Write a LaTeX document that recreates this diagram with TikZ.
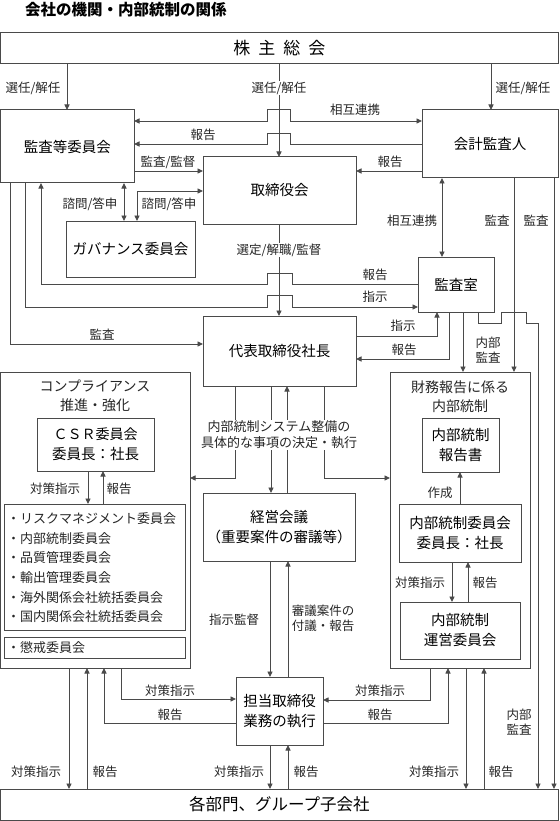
\documentclass[tikz,border=0pt]{standalone}
\usepackage{fontspec}
\setmainfont{Noto Sans CJK JP}
\usetikzlibrary{arrows.meta}
\definecolor{lc}{HTML}{4A4A4A}
\newcommand\mkbox[5]{\node[box,minimum width={#3-#1},minimum height={#4-#2}] (#5) at ({(#1+#3)/2},{(#2+#4)/2})}
\newcommand\fL{\fontsize{12.5}{15}\selectfont}
\newcommand\fB{\fontsize{14.5}{20}\selectfont}
\newcommand\fM{\fontsize{14}{19}\selectfont}
\newcommand\fH{\fontsize{16.5}{20}\selectfont}
\newcommand\fI{\fontsize{13}{16}\selectfont}
\begin{document}
\begin{tikzpicture}[x=1pt,y=-1pt,
 box/.style={draw=lc,line width=1pt,inner sep=0pt,outer sep=0pt,align=center,font=\fB},
 lbl/.style={font=\fL,inner sep=1pt,align=center,text=black!85},
 con/.style={draw=lc,line width=0.9pt},
 ar/.style={con,-{Triangle[length=5.5pt,width=5pt]}},
 da/.style={con,{Triangle[length=5.5pt,width=5pt]}-{Triangle[length=5.5pt,width=5pt]}}]
\useasboundingbox (0,0) rectangle (559,821);
\fill[white] (0,0) rectangle (559,821);

\node[anchor=west,font=\fontsize{15.5}{18}\selectfont\bfseries,inner sep=0pt] (title) at (25,10) {会社の機関・内部統制の関係};

% boxes
\mkbox{0.6}{33}{558}{64}{kabu}{\fontsize{17}{20}\selectfont 株\hspace{8pt}主\hspace{8pt}総\hspace{8pt}会};
\mkbox{0.6}{110}{134}{183}{kansa}{監査等委員会};
\mkbox{422}{110}{558}{178}{kaikei}{会計監査人};
\mkbox{203}{157}{356}{224}{tori}{取締役会};
\mkbox{66}{221}{195}{277}{gov}{ガバナンス委員会};
\mkbox{418}{257}{494}{312}{shitsu}{監査室};
\mkbox{203}{316}{356}{386}{daihyo}{代表取締役社長};
\mkbox{0.6}{372}{190}{668}{comp}{};
\mkbox{37}{418}{154}{471}{csr}{\fM ＣＳＲ委員会\\委員長：社長};
\mkbox{4}{504}{185}{630}{list}{};
\mkbox{4}{637}{185}{658}{chokai}{};
\mkbox{390}{372}{530}{668}{zaimu}{};
\mkbox{422}{418}{499}{472}{hokoku}{内部統制\\報告書};
\mkbox{399}{504}{521}{562}{naibu}{内部統制委員会\\委員長：社長};
\mkbox{400}{602}{520}{659}{unei}{内部統制\\運営委員会};
\mkbox{203}{493}{355}{561}{keiei}{経営会議\\（重要案件の審議等）};
\mkbox{236}{677}{323}{745}{tanto}{担当取締役\\業務の執行};
\mkbox{0.6}{789}{558}{820}{kakubu}{\fH 各部門、グループ子会社};

\node[lbl,font=\fM] (comptitle) at (95,396) {コンプライアンス\\推進・強化};
\node[lbl,font=\fM] (zaimutitle) at (460,397) {財務報告に係る\\内部統制};
\node[lbl,font=\fI,anchor=west] (it1) at (6,519) {・リスクマネジメント委員会};
\node[lbl,font=\fI,anchor=west] (it2) at (6,538.5) {・内部統制委員会};
\node[lbl,font=\fI,anchor=west] (it3) at (6,558) {・品質管理委員会};
\node[lbl,font=\fI,anchor=west] (it4) at (6,578) {・輸出管理委員会};
\node[lbl,font=\fI,anchor=west] (it5) at (6,597.5) {・海外関係会社統括委員会};
\node[lbl,font=\fI,anchor=west] (it6) at (6,617) {・国内関係会社統括委員会};
\node[lbl,font=\fI,anchor=west] (it7) at (6,648) {・懲戒委員会};

% connectors top
\draw[ar] (67,0 |- kabu.south) -- (67,0 |- kansa.north);
\draw[ar] (279,0 |- kabu.south) -- (279,0 |- tori.north);
\draw[ar] (491,0 |- kabu.south) -- (491,0 |- kaikei.north);
\node[lbl] (l1) at (33,88) {選任/解任};
\node[lbl,fill=white] (l2) at (279,88) {選任/解任};
\node[lbl] (l3) at (523,88) {選任/解任};

\draw[da] (kansa.east |- 0,121) -- (267,121) -- (267,109) -- (290,109) -- (290,121) -- (kaikei.west |- 0,121);
\node[lbl] (l4) at (355,110) {相互連携};
\draw[ar] (kaikei.west |- 0,144) -- (290,144) -- (290,133) -- (267,133) -- (267,144) -- (kansa.east |- 0,144);
\node[lbl] (l5) at (203,135) {報告};
\draw[ar] (kaikei.west |- 0,171) -- (tori.east |- 0,171);
\node[lbl] (l6) at (390,162) {報告};
\draw[ar] (kansa.east |- 0,171) -- (tori.west |- 0,171);
\node[lbl] (l7) at (168,162) {監査/監督};
\draw[da] (124,0 |- kansa.south) -- (124,0 |- gov.north);
\node[lbl] (l8) at (90,204) {諮問/答申};
\draw[da] (137,0 |- gov.north) -- (137,191) -- (tori.west |- 0,191);
\node[lbl] (l9) at (169,204) {諮問/答申};

\draw[ar] (shitsu.west |- 0,284) -- (292,284) -- (292,273) -- (267,273) -- (267,284) -- (41,284) -- (41,0 |- kansa.south);
\node[lbl] (l10) at (375,275) {報告};
\draw[ar] (25,0 |- kansa.south) -- (25,307) -- (267,307) -- (267,295) -- (292,295) -- (292,307) -- (shitsu.west |- 0,307);
\node[lbl] (l11) at (375,297) {指示};
\draw[ar] (10,0 |- kansa.south) -- (10,344) -- (daihyo.west |- 0,344);
\node[lbl] (l12) at (102,335) {監査};
\draw[ar] (279,0 |- tori.south) -- (279,0 |- daihyo.north);
\node[lbl,fill=white] (l13) at (279,250) {選定/解職/監督};

\draw[da] (442,0 |- kaikei.south) -- (442,0 |- shitsu.north);
\node[lbl] (l14) at (412,221) {相互連携};
\draw[ar] (514,0 |- kaikei.south) -- (514,0 |- zaimu.north);
\node[lbl] (l15) at (497,221) {監査};
\draw[ar] (554,0 |- kaikei.south) -- (554,0 |- kakubu.north);
\node[lbl] (l16) at (536,221) {監査};

\draw[ar] (daihyo.east |- 0,336) -- (437,336) -- (437,0 |- shitsu.south);
\node[lbl] (l17) at (403,326) {指示};
\draw[ar] (449,0 |- shitsu.south) -- (449,359) -- (daihyo.east |- 0,359);
\node[lbl] (l18) at (404,350) {報告};
\draw[ar] (463,0 |- shitsu.south) -- (463,0 |- zaimu.north);
\node[lbl] (l19) at (488,350) {内部\\監査};
\draw[ar] (478,0 |- shitsu.south) -- (478,323) -- (501,323) -- (501,312) -- (526,312) -- (526,323) -- (538,323) -- (538,0 |- kakubu.north);
\node[lbl] (l20) at (519,722) {内部\\監査};

% middle
\draw[ar] (235,0 |- daihyo.south) -- (235,478) -- (comp.east |- 0,478);
\draw[ar] (271,0 |- daihyo.south) -- (271,0 |- keiei.north);
\draw[ar] (287,0 |- keiei.north) -- (287,0 |- daihyo.south);
\draw[ar] (324,0 |- daihyo.south) -- (324,478) -- (zaimu.west |- 0,478);
\node[lbl,fill=white,font=\fontsize{13}{16}\selectfont] (l24) at (279,435) {内部統制システム整備の\\具体的な事項の決定・執行};

\draw[ar] (88,0 |- csr.south) -- (88,0 |- list.north);
\node[lbl] (l25) at (55,489) {対策指示};
\draw[ar] (103,0 |- list.north) -- (103,0 |- csr.south);
\node[lbl] (l26) at (119,489) {報告};
\draw[ar] (460,0 |- naibu.north) -- (460,0 |- hokoku.south);
\node[lbl] (l27) at (440,493) {作成};
\draw[ar] (452,0 |- naibu.south) -- (452,0 |- unei.north);
\node[lbl] (l28) at (420,583) {対策指示};
\draw[ar] (468,0 |- unei.north) -- (468,0 |- naibu.south);
\node[lbl] (l29) at (485,583) {報告};

\draw[ar] (270,0 |- keiei.south) -- (270,0 |- tanto.north);
\node[lbl] (l30) at (234,620) {指示監督};
\draw[ar] (288,0 |- tanto.north) -- (288,0 |- keiei.south);
\node[lbl] (l31) at (323,618) {審議案件の\\付議・報告};
\draw[ar] (270,0 |- tanto.south) -- (270,0 |- kakubu.north);
\node[lbl] (l32) at (239,772) {対策指示};
\draw[ar] (288,0 |- kakubu.north) -- (288,0 |- tanto.south);
\node[lbl] (l33) at (306,772) {報告};

\draw[ar] (69,0 |- comp.south) -- (69,0 |- kakubu.north);
\node[lbl] (l34) at (36,772) {対策指示};
\draw[ar] (87,0 |- kakubu.north) -- (87,0 |- comp.south);
\node[lbl] (l35) at (105,772) {報告};
\draw[ar] (tanto.west |- 0,723) -- (104,723) -- (104,0 |- comp.south);
\node[lbl] (l36) at (170,715) {報告};
\draw[ar] (121,0 |- comp.south) -- (121,699) -- (tanto.west |- 0,699);
\node[lbl] (l37) at (170,691) {対策指示};
\draw[ar] (430,0 |- zaimu.south) -- (430,700) -- (tanto.east |- 0,700);
\node[lbl] (l38) at (380,691) {対策指示};
\draw[ar] (tanto.east |- 0,723) -- (448,723) -- (448,0 |- zaimu.south);
\node[lbl] (l39) at (380,715) {報告};
\draw[ar] (466,0 |- zaimu.south) -- (466,0 |- kakubu.north);
\node[lbl] (l40) at (434,772) {対策指示};
\draw[ar] (484,0 |- kakubu.north) -- (484,0 |- zaimu.south);
\node[lbl] (l41) at (501,772) {報告};
\end{tikzpicture}
\end{document}
